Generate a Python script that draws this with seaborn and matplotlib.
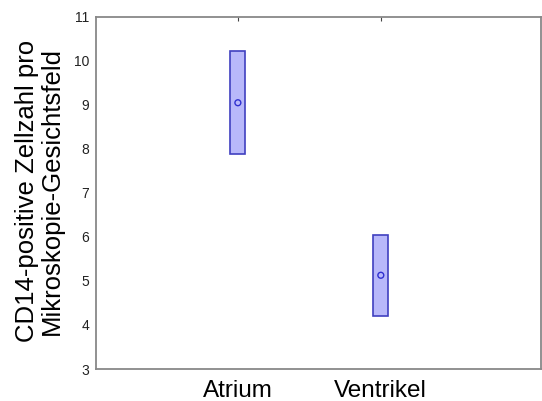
import matplotlib
matplotlib.use("Agg")
import matplotlib.pyplot as plt
import seaborn as sns
import pandas as pd

categories = ["Atrium", "Ventrikel"]
lower = [7.88, 4.20]
upper = [10.22, 6.05]
means = [9.05, 5.13]
yticks = [3, 4, 5, 6, 7, 8, 9, 10, 11]

sns.set_theme(style="white")
plt.rcParams['font.family'] = ['Liberation Sans', 'DejaVu Sans']

df = pd.DataFrame({"cat": categories, "low": lower, "high": upper, "mean": means})
df["height"] = df["high"] - df["low"]

fig = plt.figure(figsize=(5.42, 4.01), dpi=100)
ax = fig.add_axes([0.177, 0.0798, 0.821, 0.878])

sns.barplot(data=df, x="cat", y="height", bottom=df["low"].values, ax=ax,
            width=0.105, color="#b8b8fa", edgecolor="#4040c0", linewidth=1.2,
            saturation=1)
sns.scatterplot(data=df, x="cat", y="mean", ax=ax, marker="o", s=18,
                facecolor="none", edgecolor="#3030d0", linewidth=1.0, zorder=5)

ax.set_xlim(-0.993, 2.12)
ax.set_ylim(3, 11)
ax.set_yticks(yticks)
ax.set_yticklabels([str(t) for t in yticks], fontsize=10, color="#222222")
ax.tick_params(axis="y", length=0, pad=5)
ax.tick_params(axis="x", direction="in", length=3, color="#444444", top=True,
               labelsize=17.5, pad=8, width=0.8)
for lab in ax.get_xticklabels():
    lab.set_color("black")
ax.set_xlabel("")
ax.set_ylabel("CD14-positive Zellzahl pro\nMikroskopie-Gesichtsfeld", fontsize=18.5,
              color="black", linespacing=1.05, va="center", ha="center")
ax.yaxis.set_label_coords(-0.126, 0.506)
for sp in ax.spines.values():
    sp.set_color("#888888")
    sp.set_linewidth(1.3)

fig.savefig("out.png", dpi=100)
